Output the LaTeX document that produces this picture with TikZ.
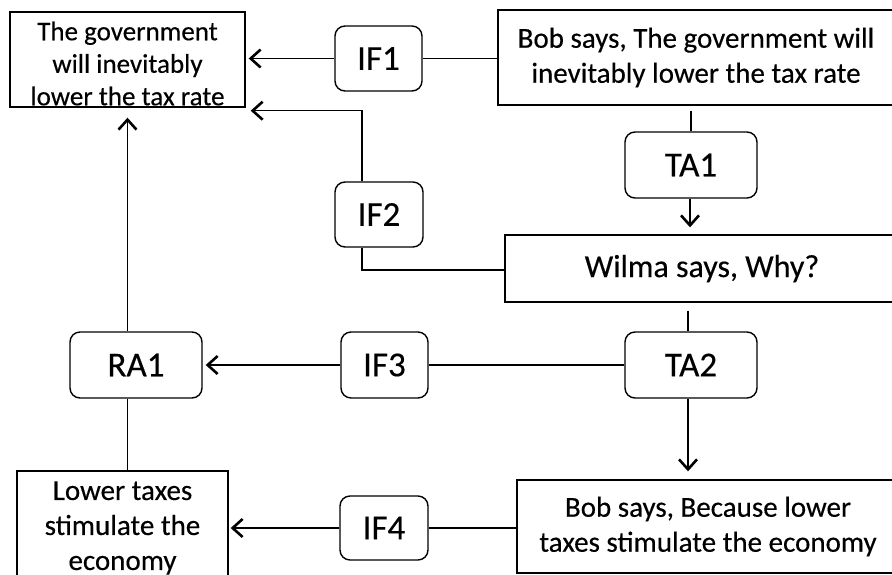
\documentclass[tikz,border=0pt]{standalone}
\usepackage{fontspec}
\setmainfont{Carlito}[FakeBold=0.35]
\usetikzlibrary{arrows.meta,calc}

\tikzset{
  stmt/.style={draw, line width=1.4pt, rectangle, inner sep=0pt, align=center,
    font=\fontsize{29}{35}\selectfont},
  tag/.style={draw, line width=1.4pt, rounded corners=10pt, inner sep=0pt,
    font=\fontsize{35}{40}\selectfont},
  link/.style={line width=1.4pt},
  arr/.style={line width=1.4pt, -{Straight Barb[length=10pt,width=18pt,line width=2.6pt]}},
}

\begin{document}
\begin{tikzpicture}[x=1pt, y=-1pt]
  \useasboundingbox (0,0) rectangle (892,574);
  \clip (0,0) rectangle (892,574);
  \fill[white] (0,0) rectangle (892,574);

  % statements
  \node[stmt, minimum width=235pt, minimum height=95pt] (gov) at (127.5,59.5) {};
  \node[align=center, inner sep=0pt, font=\fontsize{27}{32.5}\selectfont]
        at ([yshift=-4pt]gov.center)
        {The government\\will inevitably\\lower the tax rate};
  \node[stmt, minimum width=396pt, minimum height=95pt] (bob1) at (696,57.5)
        {Bob says, The government will\\inevitably lower the tax rate};
  \node[stmt, minimum width=394pt, minimum height=67pt,
        font=\fontsize{32}{38}\selectfont] (wilma) at (702,268.5)
        {Wilma says, Why?};
  \node[stmt, minimum width=382pt, minimum height=93pt] (bob2) at (708,526.5)
        {Bob says, Because lower\\taxes stimulate the economy};
  \node[stmt, minimum width=211pt, minimum height=114pt] (lower) at (122.5,528)
        {Lower taxes\\stimulate the\\economy};

  % inference / transition nodes
  \node[tag, minimum width=87pt, minimum height=65pt] (if1) at (378.5,58.5) {IF1};
  \node[tag, minimum width=88pt, minimum height=65pt] (if2) at (379,214.5) {IF2};
  \node[tag, minimum width=87pt, minimum height=66pt] (if3) at (384.5,365) {IF3};
  \node[tag, minimum width=88pt, minimum height=64pt] (if4) at (384,528) {IF4};
  \node[tag, minimum width=132pt, minimum height=66pt] (ta1) at (691,165) {TA1};
  \node[tag, minimum width=132pt, minimum height=66pt] (ta2) at (691,365) {TA2};
  \node[tag, minimum width=132pt, minimum height=66pt] (ra1) at (136,365) {RA1};

  % connectors
  \draw[link] (bob1.west |- if1.east) -- (if1.east);
  \draw[arr, shorten >=3pt] (if1.west) -- (if1.west -| gov.east);

  \draw[arr, shorten >=5pt] ([xshift=-17pt]if2.north) |- ([yshift=-3pt]gov.south east);
  \draw[link] ([xshift=-17pt]if2.south) |- ([yshift=-1.5pt]wilma.west);

  \draw[link, shorten <=5pt] (ta1.north |- bob1.south) -- (ta1.north);
  \draw[arr, shorten >=7pt] ([xshift=-1pt]ta1.south) -- ([xshift=-1pt]ta1.south |- wilma.north);

  \draw[link, shorten <=8pt] ([xshift=-3pt]ta2.north |- wilma.south) -- ([xshift=-3pt]ta2.north);
  \draw[link] (ta2.west) -- (if3.east);
  \draw[arr, shorten >=3pt] (if3.west) -- (ra1.east);
  \draw[arr, shorten >=8pt] ([xshift=-3pt]ta2.south) -- ([xshift=-3pt]ta2.south |- bob2.north);

  \draw[arr, shorten >=10pt] (gov.south |- ra1.north) -- (gov.south);
  \draw[link] (gov.south |- ra1.south) -- (gov.south |- lower.north);

  \draw[link] (bob2.west |- if4.east) -- (if4.east);
  \draw[arr, shorten >=2pt] (if4.west) -- (if4.west -| lower.east);
\end{tikzpicture}
\end{document}
